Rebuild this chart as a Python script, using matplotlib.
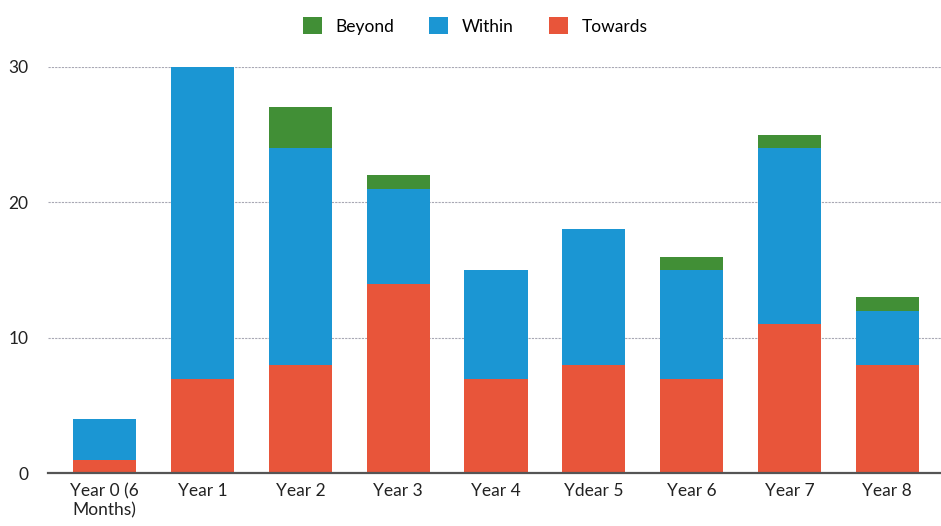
import matplotlib.pyplot as plt
import numpy as np

plt.rcParams['font.family'] = ['Lato', 'DejaVu Sans']

years = ['Year 0 (6\nMonths)', 'Year 1', 'Year 2', 'Year 3', 'Year 4',
         'Ydear 5', 'Year 6', 'Year 7', 'Year 8']
towards = [1, 7, 8, 14, 7, 8, 7, 11, 8]
within = [3, 23, 16, 7, 8, 10, 8, 13, 4]
beyond = [0, 0, 3, 1, 0, 0, 1, 1, 1]

c_towards = '#e8553a'
c_within = '#1b96d3'
c_beyond = '#418f36'

fig = plt.figure(figsize=(9.41, 5.26), dpi=100)
ax = fig.add_axes([0.051, 0.10, 0.949, 0.773])

x = np.arange(len(years))
w = 0.645
towards = np.array(towards)
within = np.array(within)
beyond = np.array(beyond)

ax.bar(x, towards, w, color=c_towards, label='Towards', zorder=3)
ax.bar(x, within, w, bottom=towards, color=c_within, label='Within', zorder=3)
ax.bar(x, beyond, w, bottom=towards + within, color=c_beyond, label='Beyond', zorder=3)

ax.set_ylim(0, 30)
ax.set_xlim(-0.58, 8.55)
ax.set_yticks([0, 10, 20, 30])
ax.set_xticks(x)
ax.set_xticklabels(years, fontsize=12.5, color='#222222', linespacing=1.25)
ax.tick_params(axis='y', labelsize=12.5, colors='#222222', length=0, pad=14)
ax.tick_params(axis='x', length=0, pad=7)

ax.yaxis.grid(True, color='#a8a8b4', linewidth=0.8, linestyle=(0, (2, 1)), zorder=0)
for s in ['top', 'right', 'left']:
    ax.spines[s].set_visible(False)
ax.spines['bottom'].set_color('#555555')
ax.spines['bottom'].set_linewidth(1.6)
ax.spines['bottom'].set_zorder(4)

handles, labels = ax.get_legend_handles_labels()
order = [2, 1, 0]
fig.legend([handles[i] for i in order], [labels[i] for i in order],
           loc='upper center', bbox_to_anchor=(0.505, 1.0), ncol=3,
           frameon=False, fontsize=12.5, handlelength=1.1, handleheight=1.1,
           columnspacing=2.0, handletextpad=0.8, borderaxespad=0.6)

fig.savefig('out.png', dpi=100)
